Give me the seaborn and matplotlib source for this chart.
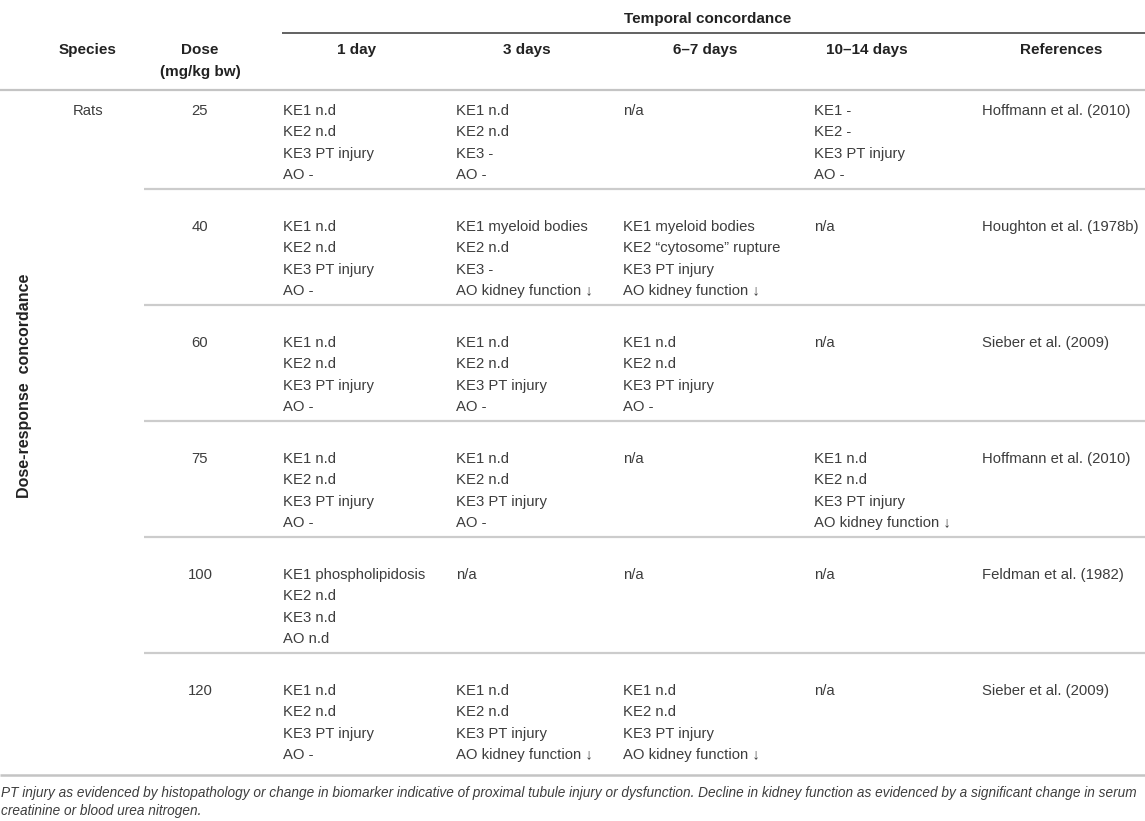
import matplotlib
matplotlib.use("Agg")
import matplotlib.pyplot as plt
import seaborn as sns

# table content
species = ["Rats"]
doses = ["25", "40", "60", "75", "100", "120"]
day_1 = [
    ["KE1 n.d", "KE2 n.d", "KE3 PT injury", "AO -"],
    ["KE1 n.d", "KE2 n.d", "KE3 PT injury", "AO -"],
    ["KE1 n.d", "KE2 n.d", "KE3 PT injury", "AO -"],
    ["KE1 n.d", "KE2 n.d", "KE3 PT injury", "AO -"],
    ["KE1 phospholipidosis", "KE2 n.d", "KE3 n.d", "AO n.d"],
    ["KE1 n.d", "KE2 n.d", "KE3 PT injury", "AO -"],
]
day_3 = [
    ["KE1 n.d", "KE2 n.d", "KE3 -", "AO -"],
    ["KE1 myeloid bodies", "KE2 n.d", "KE3 -", "AO kidney function \u2193"],
    ["KE1 n.d", "KE2 n.d", "KE3 PT injury", "AO -"],
    ["KE1 n.d", "KE2 n.d", "KE3 PT injury", "AO -"],
    ["n/a"],
    ["KE1 n.d", "KE2 n.d", "KE3 PT injury", "AO kidney function \u2193"],
]
day_6_7 = [
    ["n/a"],
    ["KE1 myeloid bodies", "KE2 \u201ccytosome\u201d rupture", "KE3 PT injury", "AO kidney function \u2193"],
    ["KE1 n.d", "KE2 n.d", "KE3 PT injury", "AO -"],
    ["n/a"],
    ["n/a"],
    ["KE1 n.d", "KE2 n.d", "KE3 PT injury", "AO kidney function \u2193"],
]
day_10_14 = [
    ["KE1 -", "KE2 -", "KE3 PT injury", "AO -"],
    ["n/a"],
    ["n/a"],
    ["KE1 n.d", "KE2 n.d", "KE3 PT injury", "AO kidney function \u2193"],
    ["n/a"],
    ["n/a"],
]
references = ["Hoffmann et al. (2010)", "Houghton et al. (1978b)", "Sieber et al. (2009)",
              "Hoffmann et al. (2010)", "Feldman et al. (1982)", "Sieber et al. (2009)"]
col_headers = ["1 day", "3 days", "6\u20137 days", "10\u201314 days"]
footnote = ["PT injury as evidenced by histopathology or change in biomarker indicative of proximal "
            "tubule injury or dysfunction. Decline in kidney function as evidenced by a significant change in serum",
            "creatinine or blood urea nitrogen."]

sns.set_theme(style="white")
plt.rcParams['font.family'] = ['Liberation Sans', 'DejaVu Sans']

W, H = 1145, 821
fig = plt.figure(figsize=(W / 100, H / 100), dpi=100)
ax = fig.add_axes([0, 0, 1, 1])
ax.set_xlim(0, W)
ax.set_ylim(H, 0)
ax.axis('off')

txt = "#3d3d3d"
hdr = "#222222"
body_fs = 10.7
head_fs = 11

# headers
ax.text(708, 19, "Temporal concordance", ha='center', va='center', fontsize=head_fs, fontweight='bold', color=hdr)
ax.hlines(33, 282, W, color="#555555", lw=1.3)
ax.text(88, 50, "Species", ha='center', va='center', fontsize=head_fs, fontweight='bold', color=hdr)
ax.text(200, 50, "Dose", ha='center', va='center', fontsize=head_fs, fontweight='bold', color=hdr)
ax.text(200, 72, "(mg/kg bw)", ha='center', va='center', fontsize=head_fs, fontweight='bold', color=hdr)
head_x = [357, 527, 705, 867]
for hx, h in zip(head_x, col_headers):
    ax.text(hx, 50, h, ha='center', va='center', fontsize=head_fs, fontweight='bold', color=hdr)
ax.text(1061, 50, "References", ha='center', va='center', fontsize=head_fs, fontweight='bold', color=hdr)
ax.hlines(90, 0, W, color="#c4c4c4", lw=1.6)

ax.text(25, 498, "Dose-response  concordance", rotation=90, rotation_mode='anchor',
        ha='left', va='center', fontsize=11.5, fontweight='bold', color=hdr)

# body
col_x = [283, 456, 623, 814]
ref_x = 982
row_y0, row_h, line_h = 111, 116, 21.3
ax.text(88, row_y0, species[0], ha='center', va='center', fontsize=body_fs, color=txt)
columns = [day_1, day_3, day_6_7, day_10_14]
for i, dose in enumerate(doses):
    y = row_y0 + i * row_h
    ax.text(200, y, dose, ha='center', va='center', fontsize=body_fs, color=txt)
    for cx, col in zip(col_x, columns):
        for k, line in enumerate(col[i]):
            ax.text(cx, y + k * line_h, line, ha='left', va='center', fontsize=body_fs, color=txt)
    ax.text(ref_x, y, references[i], ha='left', va='center', fontsize=body_fs, color=txt)
    if i < len(doses) - 1:
        ax.hlines(189 + i * row_h, 144, W, color="#cccccc", lw=1.6)

ax.hlines(775, 0, W, color="#c4c4c4", lw=1.8)
for k, line in enumerate(footnote):
    ax.text(1, 793 + k * 18.5, line, ha='left', va='center', fontsize=9.8, style='italic', color=txt)

fig.savefig("out.png", dpi=100)
